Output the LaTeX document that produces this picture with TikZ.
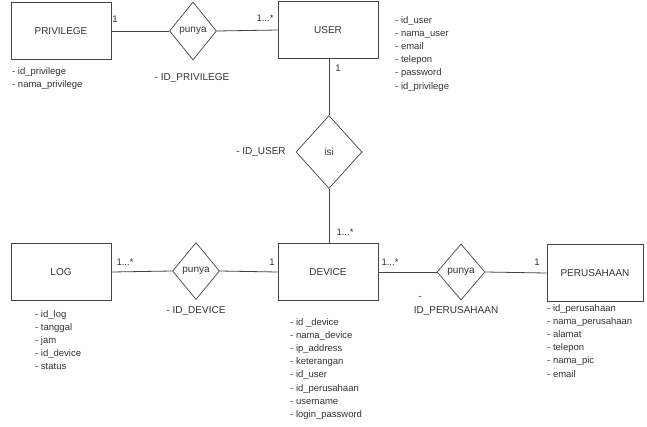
\documentclass[tikz,border=0pt]{standalone}
\usepackage{fontspec}
\setmainfont{Liberation Sans}
\usetikzlibrary{shapes.geometric}
\definecolor{ink}{HTML}{333333}
\definecolor{edge}{HTML}{444444}
\tikzset{
  entity/.style={draw=edge, line width=0.9pt, minimum width=100pt, minimum height=57pt, inner sep=0pt, font=\fontsize{10}{12}\selectfont, text=ink},
  rel/.style={draw=edge, line width=0.7pt, diamond, aspect=1, inner sep=0pt, font=\fontsize{10}{12}\selectfont, text=ink},
  conn/.style={draw=edge, line width=0.8pt},
  card/.style={font=\fontsize{9.5}{11}\selectfont, text=ink, inner sep=0pt},
  lbl/.style={font=\fontsize{10}{12}\selectfont, text=ink, inner sep=0pt},
  attrs/.style={font=\fontsize{9.5}{13.2}\selectfont, text=ink, align=left, anchor=north west, inner sep=0pt},
}
\begin{document}
\begin{tikzpicture}[x=1pt, y=-1pt]
\useasboundingbox[fill=white] (0,0) rectangle (647,426);
% entities
\node[entity] (priv) at (61,31) {PRIVILEGE};
\node[entity] (user) at (328,30) {USER};
\node[entity] (log) at (61,272) {LOG};
\node[entity] (dev) at (328,272) {DEVICE};
\node[entity, minimum width=96pt] (per) at (595,273) {PERUSAHAAN};
% relationships
\node[rel, minimum width=47pt, minimum height=58pt] (r1) at (193,31) {punya};
\node[rel, minimum width=66pt, minimum height=73pt] (r2) at (329,152) {isi};
\node[rel, minimum width=47pt, minimum height=57pt] (r3) at (196,271) {punya};
\node[rel, minimum width=48pt, minimum height=56pt] (r4) at (461,272) {punya};
% connectors
\draw[conn] (priv.east) -- (r1.west);
\draw[conn] (r1.east) -- (user.west);
\draw[conn] (user.south -| r2.north) -- (r2.north);
\draw[conn] (r2.south) -- (dev.north -| r2.south);
\draw[conn] (log.east) -- (r3.west);
\draw[conn] (r3.east) -- (dev.west);
\draw[conn] (dev.east) -- (r4.west);
\draw[conn] (r4.east) -- (per.west);
% cardinalities
\node[card] (c1) at (115,19) {1};
\node[card] (c2) at (265,18) {1...*};
\node[card] (c3) at (338,68) {1};
\node[card] (c4) at (345,232) {1...*};
\node[card] (c5) at (125,262) {1...*};
\node[card] (c6) at (272,262) {1};
\node[card] (c7) at (390,262) {1...*};
\node[card] (c8) at (537,262) {1};
% relationship attributes
\node[lbl] (k1) at (192,78) {- ID\_PRIVILEGE};
\node[lbl] (k2) at (261,152) {- ID\_USER};
\node[lbl] (k3) at (196,311) {- ID\_DEVICE};
\node[lbl] (k4a) at (420,298) {-};
\node[lbl] (k4) at (456,311) {ID\_PERUSAHAAN};
% entity attributes
\node[attrs] (a1) at (12,67) {- id\_privilege\\- nama\_privilege};
\node[attrs] (a2) at (395,16) {- id\_user\\- nama\_user\\- email\\- telepon\\- password\\- id\_privilege};
\node[attrs] (a3) at (35,310) {- id\_log\\- tanggal\\- jam\\- id\_device\\- status};
\node[attrs] (a4) at (290,318) {- id \_device\\- nama\_device\\- ip\_address\\- keterangan\\- id\_user\\- id\_perusahaan\\- username\\- login\_password};
\node[attrs] (a5) at (547,304) {- id\_perusahaan\\- nama\_perusahaan\\- alamat\\- telepon\\- nama\_pic\\- email};
\end{tikzpicture}
\end{document}
